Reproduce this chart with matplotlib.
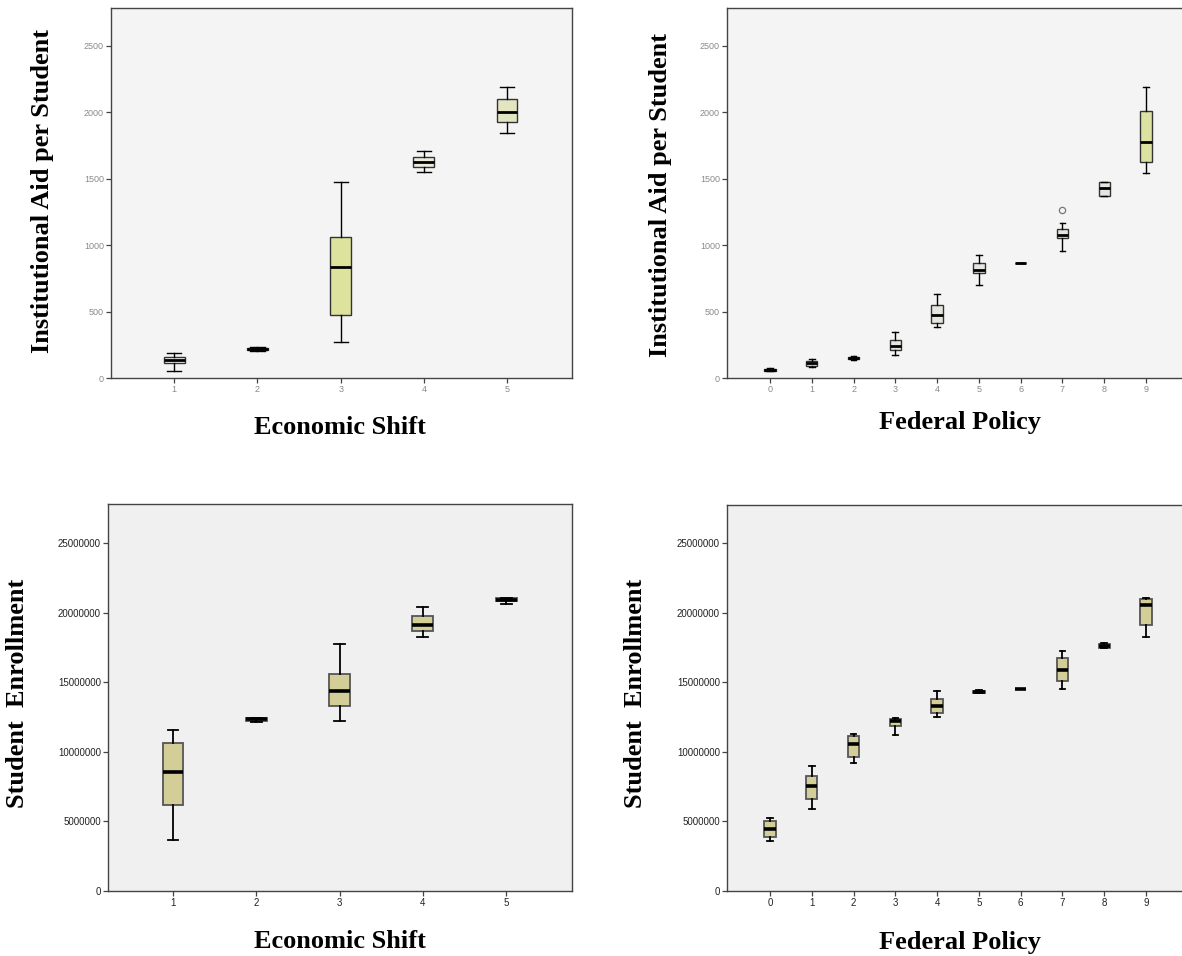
import matplotlib
matplotlib.use("Agg")
import matplotlib.pyplot as plt
from matplotlib.ticker import FuncFormatter

# ---------------- data ----------------
es_cats = [1, 2, 3, 4, 5]
fp_cats = [0, 1, 2, 3, 4, 5, 6, 7, 8, 9]

# Institutional aid per student by economic shift
aid_es_whislo = [53, 205, 270, 1549, 1842]
aid_es_q1     = [113, 210, 474, 1586, 1925]
aid_es_med    = [135, 218, 835, 1624, 2000]
aid_es_q3     = [158, 225, 1060, 1662, 2098]
aid_es_whishi = [188, 230, 1474, 1707, 2188]

# Institutional aid per student by federal policy
aid_fp_whislo = [50, 83, 135, 173, 384, 703, 866, 956, 1368, 1544]
aid_fp_q1     = [55, 90, 140, 210, 417, 793, 866, 1049, 1368, 1621]
aid_fp_med    = [62, 113, 153, 243, 477, 812, 866, 1072, 1426, 1777]
aid_fp_q3     = [68, 128, 160, 286, 552, 861, 866, 1117, 1476, 2008]
aid_fp_whishi = [72, 143, 165, 348, 635, 924, 866, 1167, 1476, 2186]
aid_fp_fliers = [[], [], [], [], [], [], [], [1263], [], []]

# Student enrollment by economic shift
enr_es_whislo = [3.67e6, 12.13e6, 12.25e6, 18.26e6, 20.64e6]
enr_es_q1     = [6.18e6, 12.25e6, 13.30e6, 18.70e6, 20.83e6]
enr_es_med    = [8.58e6, 12.34e6, 14.38e6, 19.13e6, 20.95e6]
enr_es_q3     = [10.62e6, 12.42e6, 15.63e6, 19.77e6, 21.07e6]
enr_es_whishi = [11.58e6, 12.45e6, 17.76e6, 20.45e6, 21.10e6]

# Student enrollment by federal policy
enr_fp_whislo = [3.63e6, 5.91e6, 9.20e6, 11.24e6, 12.49e6, 14.25e6, 14.50e6, 14.53e6, 17.48e6, 18.25e6]
enr_fp_q1     = [3.87e6, 6.63e6, 9.61e6, 11.84e6, 12.78e6, 14.27e6, 14.50e6, 15.08e6, 17.51e6, 19.12e6]
enr_fp_med    = [4.47e6, 7.52e6, 10.59e6, 12.25e6, 13.30e6, 14.31e6, 14.50e6, 15.92e6, 17.65e6, 20.56e6]
enr_fp_q3     = [5.00e6, 8.29e6, 11.17e6, 12.37e6, 13.78e6, 14.36e6, 14.50e6, 16.76e6, 17.77e6, 21.01e6]
enr_fp_whishi = [5.24e6, 8.96e6, 11.29e6, 12.44e6, 14.36e6, 14.48e6, 14.50e6, 17.27e6, 17.80e6, 21.04e6]

aid_yticks = [0, 500, 1000, 1500, 2000, 2500]
enr_yticks = [0, 5000000, 10000000, 15000000, 20000000, 25000000]

# ---------------- helpers ----------------
W, H = 1182, 956
fig = plt.figure(figsize=(W / 100, H / 100), dpi=100)
fig.patch.set_facecolor("white")

SERIF = ["Liberation Serif", "DejaVu Serif"]
SANS = ["Liberation Sans", "DejaVu Sans"]


def px_axes(l, r, t, b):
    return fig.add_axes([l / W, 1 - b / H, (r - l) / W, (b - t) / H])


def stats(lo, q1, med, q3, hi, fliers=None):
    out = []
    for i in range(len(med)):
        out.append(dict(whislo=lo[i], q1=q1[i], med=med[i], q3=q3[i], whishi=hi[i],
                        fliers=(fliers[i] if fliers else [])))
    return out


def style_axes(ax, bg, spine_col, tick_col, fs):
    ax.set_facecolor(bg)
    for s in ax.spines.values():
        s.set_color(spine_col)
        s.set_linewidth(1.0)
    ax.tick_params(axis="both", length=3.6, width=0.9, color=spine_col,
                   labelsize=fs, labelcolor=tick_col, pad=1.5)
    for lab in ax.get_xticklabels() + ax.get_yticklabels():
        lab.set_fontfamily(SANS)


def draw(ax, st, pos, fills, width, capw, edge, lw, medlw):
    bp = ax.bxp(st, positions=pos, widths=width, capwidths=capw, patch_artist=True,
                showfliers=True,
                boxprops=dict(edgecolor=edge, linewidth=lw),
                medianprops=dict(color="black", linewidth=medlw, solid_capstyle="butt"),
                whiskerprops=dict(color="black", linewidth=lw),
                capprops=dict(color="black", linewidth=lw),
                flierprops=dict(marker="o", markersize=4.5, markerfacecolor="none",
                                markeredgecolor="#777777", markeredgewidth=0.9))
    for patch, c in zip(bp["boxes"], fills):
        patch.set_facecolor(c)
    return bp


int_fmt = FuncFormatter(lambda v, p: "%d" % v)

# ---------------- top-left ----------------
ax1 = px_axes(111, 572, 8, 378)
draw(ax1, stats(aid_es_whislo, aid_es_q1, aid_es_med, aid_es_q3, aid_es_whishi),
     es_cats, ["#f4f4f0", "#222222", "#dde39c", "#ecebdc", "#e2e4c2"],
     0.25, 0.17, "#333333", 1.0, 2.0)
ax1.set_xlim(0.24, 5.78)
ax1.set_ylim(0, 2782)
ax1.set_xticks(es_cats)
ax1.set_yticks(aid_yticks)
ax1.yaxis.set_major_formatter(int_fmt)
style_axes(ax1, "#f4f4f4", "#444444", "#8a8a8a", 6.5)

# ---------------- top-right ----------------
ax2 = px_axes(727, 1189, 8, 378)
fp_aid_fills = ["#e6e6e0"] * 9 + ["#dde2a2"]
draw(ax2, stats(aid_fp_whislo, aid_fp_q1, aid_fp_med, aid_fp_q3, aid_fp_whishi, aid_fp_fliers),
     fp_cats, fp_aid_fills, 0.27, 0.14, "#333333", 1.0, 2.0)
ax2.set_xlim(-1.03, 10.03)
ax2.set_ylim(0, 2782)
ax2.set_xticks(fp_cats)
ax2.set_yticks(aid_yticks)
ax2.yaxis.set_major_formatter(int_fmt)
style_axes(ax2, "#f4f4f4", "#444444", "#8a8a8a", 6.5)

# ---------------- bottom-left ----------------
ax3 = px_axes(108, 572, 504, 891)
draw(ax3, stats(enr_es_whislo, enr_es_q1, enr_es_med, enr_es_q3, enr_es_whishi),
     es_cats, ["#d3ce97"] * 5, 0.25, 0.13, "#555555", 1.3, 2.6)
ax3.set_xlim(0.22, 5.79)
ax3.set_ylim(0, 27.83e6)
ax3.set_xticks(es_cats)
ax3.set_yticks(enr_yticks)
ax3.yaxis.set_major_formatter(int_fmt)
style_axes(ax3, "#f0f0f0", "#444444", "#222222", 7)

# ---------------- bottom-right ----------------
ax4 = px_axes(727, 1189, 505, 891)
draw(ax4, stats(enr_fp_whislo, enr_fp_q1, enr_fp_med, enr_fp_q3, enr_fp_whishi),
     fp_cats, ["#d3ce97"] * 10, 0.27, 0.13, "#555555", 1.3, 2.6)
ax4.set_xlim(-1.03, 10.03)
ax4.set_ylim(0, 27.76e6)
ax4.set_xticks(fp_cats)
ax4.set_yticks(enr_yticks)
ax4.yaxis.set_major_formatter(int_fmt)
style_axes(ax4, "#f0f0f0", "#444444", "#222222", 7)

# ---------------- axis titles ----------------
lab = dict(fontfamily=SERIF, fontweight="bold", fontsize=19, color="black",
           ha="center", va="center")
fig.text(340 / W, 1 - 427 / H, "Economic Shift", **lab)
fig.text(960 / W, 1 - 422 / H, "Federal Policy", **lab)
fig.text(340 / W, 1 - 942 / H, "Economic Shift", **lab)
fig.text(960 / W, 1 - 942 / H, "Federal Policy", **lab)
fig.text(43 / W, 1 - 191 / H, "Institutional Aid per Student", rotation=90, **lab)
fig.text(661 / W, 1 - 195 / H, "Institutional Aid per Student", rotation=90, **lab)
fig.text(18 / W, 1 - 693 / H, "Student  Enrollment", rotation=90, **lab)
fig.text(635 / W, 1 - 693 / H, "Student  Enrollment", rotation=90, **lab)

fig.savefig("out.png", dpi=100)
